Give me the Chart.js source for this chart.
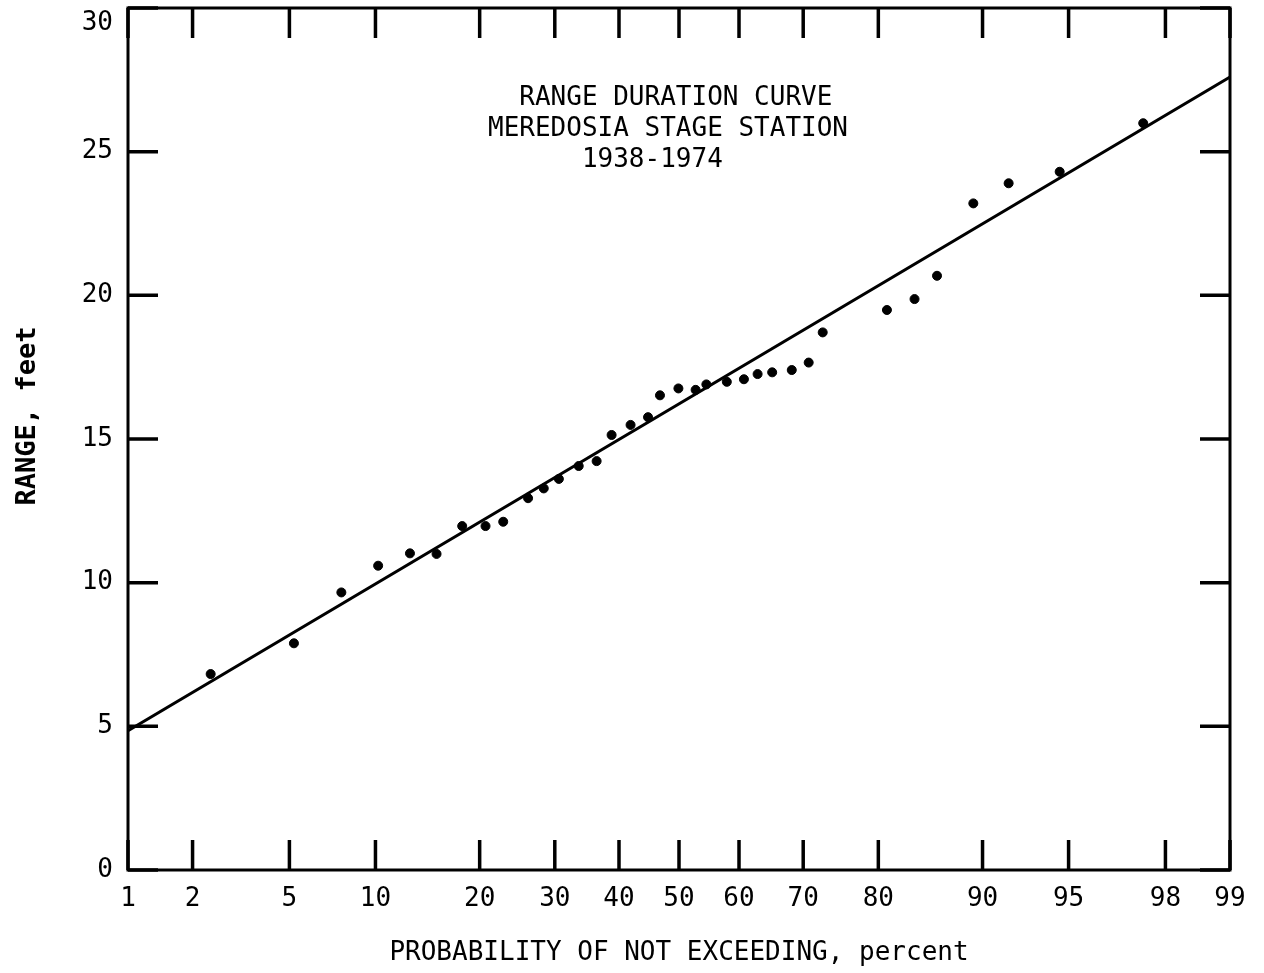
<!DOCTYPE html>
<html>
<head>
    <script src="https://cdn.jsdelivr.net/npm/chart.js"></script>
    <style>
        html, body {
            margin: 0;
            padding: 0;
            background: #fff;
        }
        .chart-container {
            width: 1264px;
            height: 973px;
            position: relative;
        }
    </style>
</head>
<body>
    <div class="chart-container">
        <canvas id="rangeChart"></canvas>
    </div>

<script>
// 읽어낸 데이터 (probability %, range ft)
const probPercent = [2.4, 5.2, 7.7, 10.2, 12.8, 15.3, 18.0, 20.7, 22.9, 26.2, 28.4, 30.6,
    33.6, 36.4, 38.8, 41.9, 44.8, 46.8, 49.9, 52.8, 54.6, 58.0, 60.8, 63.0, 65.3, 68.3,
    70.8, 72.8, 81.0, 84.0, 86.2, 89.3, 91.8, 94.6, 97.5];
const rangeFeet = [6.82, 7.89, 9.66, 10.59, 11.02, 11.0, 11.97, 11.97, 12.12, 12.94, 13.28, 13.61,
    14.06, 14.23, 15.14, 15.49, 15.76, 16.52, 16.76, 16.71, 16.90, 16.99, 17.08, 17.26, 17.32, 17.40,
    17.66, 18.71, 19.49, 19.87, 20.68, 23.20, 23.90, 24.30, 25.99];

// 직선 (fitted curve)
const fitPercent = [1, 99];
const fitFeet = [4.85, 27.6];

// 축 눈금
const xTickPercent = [1, 2, 5, 10, 20, 30, 40, 50, 60, 70, 80, 90, 95, 98, 99];
const yTickValues = [0, 5, 10, 15, 20, 25, 30];

const titleLines = ['  RANGE DURATION CURVE ', 'MEREDOSIA STAGE STATION', '      1938-1974        '];
const yTitle = 'RANGE, feet';

const FONT = '"DejaVu Sans Mono", monospace';

// 정규확률지 변환 (inverse normal CDF, Acklam)
function probit(p) {
    const a = [-3.969683028665376e+01, 2.209460984245205e+02, -2.759285104469687e+02,
        1.383577518672690e+02, -3.066479806614716e+01, 2.506628277459239e+00];
    const b = [-5.447609879822406e+01, 1.615858368580409e+02, -1.556989798598866e+02,
        6.680131188771972e+01, -1.328068155288572e+01];
    const c = [-7.784894002430293e-03, -3.223964580411365e-01, -2.400758277161838e+00,
        -2.549732539343734e+00, 4.374664141464968e+00, 2.938163982698783e+00];
    const d = [7.784695709041462e-03, 3.224671290700398e-01, 2.445134137142996e+00,
        3.754408661907416e+00];
    const pl = 0.02425;
    if (p < pl) {
        const q = Math.sqrt(-2 * Math.log(p));
        return (((((c[0]*q+c[1])*q+c[2])*q+c[3])*q+c[4])*q+c[5]) / ((((d[0]*q+d[1])*q+d[2])*q+d[3])*q+1);
    }
    if (p > 1 - pl) {
        const q = Math.sqrt(-2 * Math.log(1 - p));
        return -(((((c[0]*q+c[1])*q+c[2])*q+c[3])*q+c[4])*q+c[5]) / ((((d[0]*q+d[1])*q+d[2])*q+d[3])*q+1);
    }
    const q = p - 0.5, r = q * q;
    return (((((a[0]*r+a[1])*r+a[2])*r+a[3])*r+a[4])*r+a[5])*q / (((((b[0]*r+b[1])*r+b[2])*r+b[3])*r+b[4])*r+1);
}

const z = pct => probit(pct / 100);

// 테두리, 안쪽 눈금, 제목
const framePlugin = {
    id: 'frame',
    afterDraw(chart) {
        const {ctx, chartArea: a, scales: {x, y}} = chart;
        const len = 30;
        ctx.save();
        ctx.strokeStyle = '#000';
        ctx.lineWidth = 3;
        ctx.strokeRect(a.left, a.top, a.right - a.left, a.bottom - a.top);

        ctx.lineWidth = 3.5;
        ctx.beginPath();
        xTickPercent.forEach(p => {
            const px = x.getPixelForValue(z(p));
            ctx.moveTo(px, a.bottom); ctx.lineTo(px, a.bottom - len);
            ctx.moveTo(px, a.top); ctx.lineTo(px, a.top + len);
        });
        yTickValues.forEach(v => {
            const py = y.getPixelForValue(v);
            ctx.moveTo(a.left, py); ctx.lineTo(a.left + len, py);
            ctx.moveTo(a.right, py); ctx.lineTo(a.right - len, py);
        });
        ctx.stroke();

        ctx.fillStyle = '#000';
        ctx.font = '26px ' + FONT;
        ctx.textAlign = 'center';
        ctx.textBaseline = 'middle';
        titleLines.forEach((t, i) => ctx.fillText(t, 668, 98 + i * 31));

        // 세로축 제목
        ctx.translate(28, 416);
        ctx.rotate(-Math.PI / 2);
        ctx.font = 'bold 27px ' + FONT;
        ctx.fillText(yTitle, 0, 0);
        ctx.restore();
    }
};

new Chart(document.getElementById('rangeChart'), {
    type: 'scatter',
    data: {
        datasets: [{
            label: 'fit',
            data: fitPercent.map((p, i) => ({x: z(p), y: fitFeet[i]})),
            showLine: true,
            borderColor: '#000',
            borderWidth: 3,
            pointRadius: 0
        }, {
            label: 'observed',
            data: probPercent.map((p, i) => ({x: z(p), y: rangeFeet[i]})),
            backgroundColor: '#000',
            borderColor: '#000',
            pointRadius: 4.5
        }]
    },
    options: {
        responsive: true,
        maintainAspectRatio: false,
        animation: false,
        layout: {
            padding: {top: 8, right: 34, left: 0, bottom: 0}
        },
        plugins: {
            legend: {display: false},
            tooltip: {enabled: false}
        },
        scales: {
            x: {
                type: 'linear',
                min: z(1),
                max: z(99),
                afterBuildTicks: s => {
                    s.ticks = xTickPercent.map(p => ({value: z(p)}));
                },
                afterFit: s => {
                    s.height = 103;
                    s.paddingLeft = 0;
                    s.paddingRight = 0;
                },
                grid: {display: false, drawTicks: false},
                border: {display: false},
                ticks: {
                    autoSkip: false,
                    maxRotation: 0,
                    padding: 14,
                    color: '#000',
                    font: {family: FONT, size: 26},
                    callback: (v, i) => xTickPercent[i]
                },
                title: {
                    display: true,
                    text: 'PROBABILITY OF NOT EXCEEDING, percent',
                    color: '#000',
                    font: {family: FONT, size: 26},
                    padding: {top: 0, bottom: 4}
                }
            },
            y: {
                min: 0,
                max: 30,
                afterBuildTicks: s => {
                    s.ticks = yTickValues.map(v => ({value: v}));
                },
                afterFit: s => {
                    s.width = 128;
                    s.paddingTop = 0;
                    s.paddingBottom = 0;
                },
                grid: {display: false, drawTicks: false},
                border: {display: false},
                ticks: {
                    padding: 15,
                    color: '#000',
                    font: {family: FONT, size: 26},
                    // 맨 위 라벨은 원본처럼 눈금 아래쪽에 둔다
                    callback: v => v === 30 ? ['', '30'] : String(v)
                }
            }
        }
    },
    plugins: [framePlugin]
});
</script>
</body>
</html>
